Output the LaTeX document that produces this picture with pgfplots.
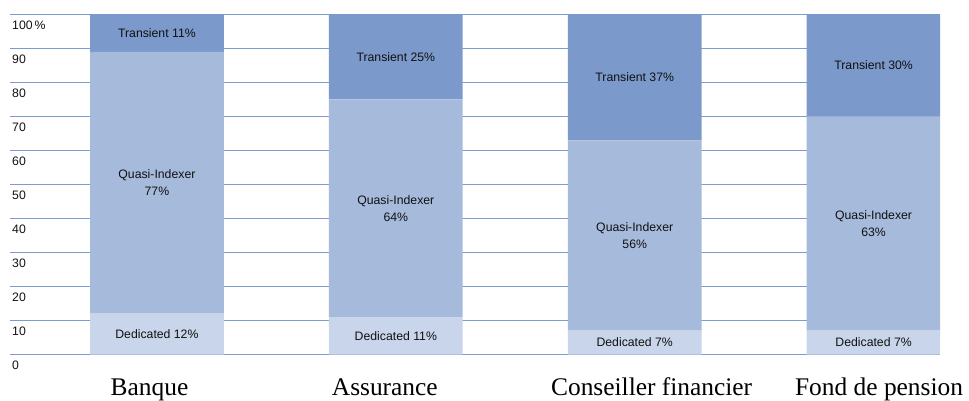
\documentclass[border=0pt]{standalone}
\usepackage{fontspec}
\setmainfont{Liberation Sans}
\newfontfamily\serifcat{Liberation Serif}
\usepackage{pgfplots}
\usepackage{pgfplotstable}
\pgfplotsset{compat=1.18}
\definecolor{trans}{HTML}{7B9ACB}
\definecolor{quasi}{HTML}{A6BADC}
\definecolor{dedic}{HTML}{C8D5EA}
\definecolor{gridblue}{HTML}{7C9BD0}
\definecolor{txt}{HTML}{111111}

% segment values per investor type
\pgfplotstableread{
x ded quasi trans
0 12 77 11
1 11 64 25
2 7  56 37
3 7  63 30
}\shares

\pgfplotsset{common/.style={
  scale only axis, width=930bp, height=340bp,
  xmin=-0.615, xmax=3.278, ymin=0, ymax=100}}

\begin{document}
\begin{tikzpicture}
\begin{axis}[common,
  ybar stacked, bar width=0.56,
  axis line style={draw=none}, tick style={draw=none},
  ymajorgrids, major grid style={draw=gridblue, line width=1.1bp},
  ytick={0,10,...,100},
  yticklabels={0,10,20,30,40,50,60,70,80,90,100\,\%},
  yticklabel style={anchor=north west, font=\fontsize{12.3}{14}\selectfont, text=txt, inner sep=0pt, xshift=2pt, yshift=-6pt},
  xtick={-0.031,0.954,2.071,3.023},
  xticklabels={Banque,Assurance,Conseiller financier,Fond de pension},
  xticklabel style={anchor=base, inner sep=0pt, yshift=-40.5bp, font=\serifcat\fontsize{25.5}{28}\selectfont, text=black},
]
\addplot[fill=dedic, draw=none] table[x=x, y=ded] {\shares};
\addplot[fill=quasi, draw=none] table[x=x, y=quasi] {\shares};
\addplot[fill=trans, draw=none] table[x=x, y=trans] {\shares};
\coordinate (O) at (rel axis cs:0,0);
\coordinate (T) at (rel axis cs:1,1);
\end{axis}
\begin{axis}[common, hide axis]
\addplot[only marks, mark=none, point meta=explicit symbolic,
  nodes near coords,
  nodes near coords style={anchor=center, align=center, text=txt, inner sep=0pt,
    font=\fontsize{12.3}{17}\selectfont}]
  coordinates {
  (0,6) [Dedicated 12\%]
  (0,50.5) [{Quasi-Indexer\\77\%}]
  (0,94.5) [Transient 11\%]
  (1,5.5) [Dedicated 11\%]
  (1,43) [{Quasi-Indexer\\64\%}]
  (1,87.5) [Transient 25\%]
  (2,3.5) [Dedicated 7\%]
  (2,35) [{Quasi-Indexer\\56\%}]
  (2,81.5) [Transient 37\%]
  (3,3.5) [Dedicated 7\%]
  (3,38.5) [{Quasi-Indexer\\63\%}]
  (3,85) [Transient 30\%]
  };
\end{axis}
\pgfresetboundingbox
\path ([xshift=-10bp,yshift=-46.5bp]O) rectangle ([xshift=29bp,yshift=14.5bp]T);
\end{tikzpicture}
\end{document}
